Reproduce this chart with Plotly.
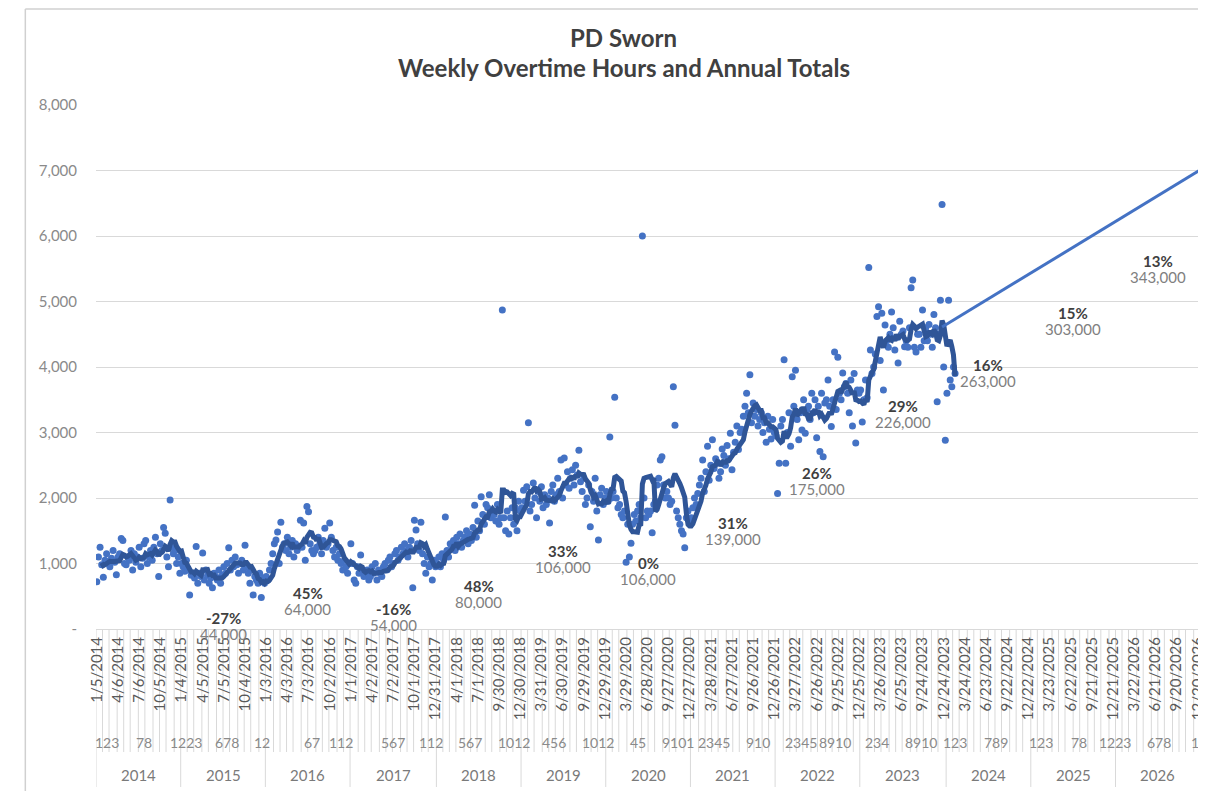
import pandas as pd
import plotly.graph_objects as go

# ---------------- data ----------------
week_start = "2014-01-05"
week_end = "2026-12-27"

ot_2014 = [720, 1100, 1250, 980, 790, 1050, 1150, 1000, 950, 1080,
           1200, 1020, 830, 1100, 1150, 1380, 1350, 1000, 980, 1100,
           1050, 1200, 900, 1150, 1020, 1100, 1250, 950, 1080, 1300,
           1350, 1000, 1100, 1200, 1050, 1250, 1400, 1150, 800, 1300,
           1200, 1550, 1460, 1100, 950, 1970, 1250, 1150, 1200, 1000,
           1100, 850]
ot_2015 = [1000, 950, 880, 1050, 900, 520, 820, 850, 780, 1260,
           700, 850, 800, 1160, 750, 900, 820, 700, 780, 630,
           850, 800, 750, 900, 700, 820, 950, 850, 1000, 1240,
           900, 1050, 950, 1100, 980, 850, 1000, 1050, 900, 1280,
           950, 850, 700, 900, 520, 800, 750, 700, 850, 480,
           780, 700]
ot_2016 = [800, 750, 900, 1000, 1150, 1300, 1360, 1480, 1000, 1630,
           1250, 1300, 1200, 1400, 1150, 1250, 1350, 1100, 1300, 1200,
           1250, 1660, 1250, 1620, 1050, 1870, 1790, 1300, 1200, 1150,
           1200, 1250, 1400, 1300, 1150, 1350, 1540, 1250, 1300, 1620,
           1400, 1200, 1100, 1250, 1050, 1150, 1000, 900, 1050, 950,
           850, 1000]
ot_2017 = [1300, 1000, 750, 700, 950, 850, 1130, 900, 800, 850,
           900, 750, 800, 950, 850, 1000, 750, 900, 850, 800,
           950, 1000, 900, 1050, 1100, 950, 1000, 1150, 1200, 1050,
           1100, 1250, 1150, 1300, 1200, 1100, 1250, 1350, 630, 1660,
           1510, 1300, 1200, 1630, 1150, 1000, 850, 1100, 950, 1000,
           750, 1050, 950]
ot_2018 = [1000, 1100, 950, 1150, 1050, 1710, 1200, 1100, 1300, 1250,
           1350, 1200, 1400, 1300, 1450, 1250, 1350, 1400, 1500, 1300,
           1450, 1350, 1550, 1890, 1400, 1650, 1500, 2020, 1750, 1600,
           1900, 1850, 2050, 1700, 1800, 1750, 1650, 1900, 1600, 1700,
           4870, 1700, 1500, 1800, 1450, 1700, 1850, 1600, 1850, 1500,
           1950, 1800]
ot_2019 = [1850, 2120, 1950, 2170, 3150, 1800, 1900, 2230, 2000, 1700,
           2100, 1950, 2170, 1850, 2050, 1900, 2000, 1620, 2100, 2200,
           1950, 2050, 2300, 2100, 2580, 2000, 2610, 2200, 2400, 2150,
           2300, 2430, 2200, 2500, 2350, 2730, 2250, 2100, 2300, 1900,
           2000, 2200, 1560, 2100, 1950, 2300, 1800, 1360, 2050, 2150,
           1900, 2000]
ot_2020 = [2100, 1950, 2930, 2000, 2100, 3540, 2000, 1850, 1900, 1750,
           1700, 1800, 1020, 1600, 1100, 1310, 1600, 1750, 1650, 1800,
           1900, 1700, 6000, 2000, 1700, 1800, 1750, 1800, 1470, 1900,
           1950, 2200, 2300, 2580, 2630, 2200, 2000, 2100, 2000, 1900,
           1950, 3700, 3110, 1800, 1700, 1600, 1500, 1450, 1240, 1700,
           1800, 1600]
ot_2021 = [1700, 1850, 2000, 1900, 2070, 2200, 2300, 2580, 2100, 2400,
           2790, 2270, 2500, 2890, 2450, 2600, 2550, 2300, 2400, 2750,
           2650, 2500, 2800, 2600, 2990, 2430, 2700, 2850, 3100, 2740,
           3000, 3050, 3250, 3400, 3600, 3300, 3880, 3150, 3450, 3250,
           3350, 3100, 3200, 3300, 3000, 3150, 2850, 3250, 3050, 2900,
           3200, 3000]
ot_2022 = [2950, 2070, 2530, 3100, 3200, 4110, 2530, 3000, 3300, 2790,
           3850, 3400, 3950, 3200, 2890, 3300, 3040, 3500, 2990, 3350,
           3400, 3200, 3600, 3300, 3500, 2920, 3400, 2710, 3600, 2630,
           3450, 3500, 3800, 3400, 3090, 3500, 4230, 3350, 4150, 3600,
           3500, 3910, 3700, 3750, 3600, 3300, 3800, 3100, 3900, 2840,
           3650, 3600]
ot_2023 = [3650, 3160, 3500, 3800, 3530, 5520, 4260, 3900, 4000, 4200,
           4770, 4920, 4100, 4820, 3650, 4640, 4400, 4300, 4500, 4840,
           4600, 4260, 4450, 4060, 4700, 4500, 4550, 4310, 4400, 4300,
           4600, 5210, 5330, 4300, 4230, 4500, 4500, 4300, 4870, 4400,
           4600, 4400, 4650, 4500, 4300, 4800, 4600, 3470, 4500, 5020,
           6480, 4000, 2880]
ot_2024 = [3600, 5020, 3800, 3700, 4000, 3900]

ma_window = 8

forecast_dates = ["2023-12-17", "2026-12-27"]
forecast_hours = [4610, 7000]

label_years = [2015, 2016, 2017, 2018, 2019, 2020, 2021, 2022, 2023, 2024, 2025, 2026]
pct_change = ["-27%", "45%", "-16%", "48%", "33%", "0%", "31%", "26%", "29%", "16%", "15%", "13%"]
annual_totals = [44000, 64000, 54000, 80000, 106000, 106000, 139000, 175000,
                 226000, 263000, 303000, 343000]

month_label_text = ["123", "78", "1223", "678", "12", "67", "112", "567", "112",
                    "567", "1012", "456", "1012", "45", "9101", "2345", "910", "2345",
                    "8910", "234", "8910", "123", "789", "123", "78", "1223", "678", "12"]
month_label_dates = ["2014-02-17", "2014-07-27", "2015-01-25", "2015-07-19", "2015-12-16",
                     "2016-07-17", "2016-11-20", "2017-07-02", "2017-12-10", "2018-05-27",
                     "2018-12-02", "2019-05-26", "2019-12-01", "2020-05-17", "2020-11-08",
                     "2021-04-11", "2021-10-17", "2022-04-20", "2022-09-11", "2023-03-12",
                     "2023-09-17", "2024-02-11", "2024-08-04", "2025-02-16", "2025-07-27",
                     "2025-12-28", "2026-07-05", "2026-12-24"]

y_ticks = [0, 1000, 2000, 3000, 4000, 5000, 6000, 7000, 8000]

# ---------------- layout constants ----------------
label_y = [53, 435, 176, 534, 1076, 885, 1489, 2252, 3275, 3901, 4710, 5489]
FONT = "Lato"
BLUE = "#4472C4"
DARK_BLUE = "#2F5597"
GRID = "#d9d9d9"

# page has an 8px body margin: figure is drawn 8px in from the window corner
OFF = 8
W, H = 1206 - OFF, 791 - OFF
PL, PT, PB = 96, 105, 629        # plot box in window pixels (left, top, bottom)
L, T = PL - OFF, PT - OFF
B = H - (PB - OFF)
PW, PH = W - L, PB - PT


def px(x):   # window pixel -> paper x
    return (x - PL) / PW


def py(y):   # window pixel -> paper y
    return (PB - y) / PH


weeks = pd.date_range(week_start, week_end, freq="7D")
weekly_hours = (ot_2014 + ot_2015 + ot_2016 + ot_2017 + ot_2018 + ot_2019 +
                ot_2020 + ot_2021 + ot_2022 + ot_2023 + ot_2024)
data_weeks = weeks[:len(weekly_hours)]
moving_avg = pd.Series(weekly_hours).rolling(ma_window, min_periods=4).mean()

fig = go.Figure()
fig.add_trace(go.Scatter(x=data_weeks, y=weekly_hours, mode="markers",
                         marker=dict(color=BLUE, size=7), showlegend=False))
fig.add_trace(go.Scatter(x=data_weeks, y=moving_avg, mode="lines",
                         line=dict(color=DARK_BLUE, width=5), showlegend=False))
fig.add_trace(go.Scatter(x=pd.to_datetime(forecast_dates), y=forecast_hours, mode="lines",
                         line=dict(color=BLUE, width=3), showlegend=False))

tick_dates = weeks[::13]
tick_text = [f"{d.month}/{d.day}/{d.year}" for d in tick_dates]

shapes = []
half = pd.Timedelta(days=3.5)
bounds = [(weeks[0] - half, True)]
for i in range(1, len(weeks)):
    if weeks[i].month != weeks[i - 1].month:
        bounds.append((weeks[i] - half, weeks[i].year != weeks[i - 1].year))
bounds.append((weeks[-1] + half, True))
for xb, is_year in bounds:
    shapes.append(dict(type="line", xref="x", yref="paper", x0=xb, x1=xb,
                       y0=0, y1=py(787) if is_year else py(752),
                       line=dict(color=GRID, width=1), layer="below"))

# outer chart border
shapes.append(dict(type="line", xref="paper", yref="paper",
                   x0=px(25), x1=px(25), y0=py(800), y1=py(9),
                   line=dict(color="#d0d0d0", width=1.5)))
shapes.append(dict(type="line", xref="paper", yref="paper",
                   x0=px(25), x1=1.02, y0=py(9), y1=py(9),
                   line=dict(color="#d0d0d0", width=1.5)))

annotations = []
for txt, yy in (("<b>PD Sworn</b>", 38), ("<b>Weekly Overtime Hours and Annual Totals</b>", 68)):
    annotations.append(dict(text=txt, xref="paper", yref="paper", x=px(626), y=py(yy),
                            xanchor="center", yanchor="middle", showarrow=False,
                            font=dict(family=FONT, size=24, color="#404040")))


def year_center(y):
    w = weeks[weeks.year == y]
    return w[0] + (w[-1] - w[0]) / 2


for yr, pct, tot, ly in zip(label_years, pct_change, annual_totals, label_y):
    xc = year_center(yr)
    annotations.append(dict(text=f"<b>{pct}</b>", x=xc, y=ly, xref="x", yref="y",
                            xanchor="center", yanchor="middle", yshift=8, showarrow=False,
                            font=dict(family=FONT, size=15, color="#404040")))
    annotations.append(dict(text=f"{tot:,}", x=xc, y=ly, xref="x", yref="y",
                            xanchor="center", yanchor="middle", yshift=-8, showarrow=False,
                            font=dict(family=FONT, size=15, color="#808080")))

for txt, d in zip(month_label_text, month_label_dates):
    annotations.append(dict(text=txt, x=pd.Timestamp(d), y=py(742), xref="x", yref="paper",
                            xanchor="center", yanchor="middle", showarrow=False,
                            font=dict(family=FONT, size=14, color="#8a8a8a")))
for yr in range(weeks[0].year, weeks[-1].year + 1):
    annotations.append(dict(text=str(yr), x=year_center(yr), y=py(775), xref="x", yref="paper",
                            xanchor="center", yanchor="middle", showarrow=False,
                            font=dict(family=FONT, size=15, color="#7a7a7a")))

fig.update_layout(
    width=W, height=H,
    margin=dict(l=L, r=0, t=T, b=B),
    paper_bgcolor="white", plot_bgcolor="white",
    font=dict(family=FONT),
    shapes=shapes, annotations=annotations,
    xaxis=dict(type="date",
               range=[weeks[0] - half, weeks[-1] + pd.Timedelta(days=7)],
               tickmode="array", tickvals=tick_dates, ticktext=tick_text,
               tickangle=-90, tickfont=dict(family=FONT, size=15, color="#595959"),
               showgrid=False, zeroline=False, showline=True, linecolor=GRID,
               ticks="", ticklabelstandoff=1, ticklabeloverflow="allow"),
    yaxis=dict(range=[0, 8000], tickmode="array", tickvals=y_ticks,
               ticktext=["-" if v == 0 else f"{v:,}" for v in y_ticks],
               tickfont=dict(family=FONT, size=15, color="#8a8a8a"),
               gridcolor=GRID, gridwidth=1, zeroline=False, showline=False,
               ticks="", ticklabelstandoff=18),
)

fig.write_html("out.html")
